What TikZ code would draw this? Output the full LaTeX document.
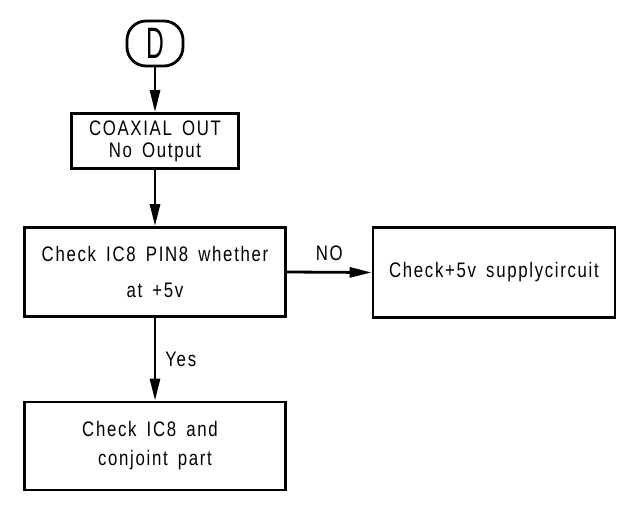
\documentclass[tikz,border=0pt]{standalone}
\usepackage{fontspec}
\setmainfont{Liberation Sans}[FakeStretch=0.8,LetterSpace=8,WordSpace=1.6]
\usetikzlibrary{arrows.meta,shapes.geometric}
\begin{document}
\begin{tikzpicture}[x=1pt,y=-1pt,
  box/.style={draw,line width=2.8pt,align=center,inner sep=0pt},
  conn/.style={line width=2.8pt,-{Triangle[length=22pt,width=10pt]}},
  lbl/.style={font=\fontsize{21}{22}\selectfont,inner sep=0pt}]
\useasboundingbox (0,0) rectangle (637,505);
\node[draw,line width=2.8pt,rounded corners=19pt,minimum width=56pt,minimum height=45pt,inner sep=0pt] (d) at (155,43.5) {\fontsize{44}{44}\selectfont\scalebox{0.7}[1]{D}};
\node[box,minimum width=167pt,minimum height=55pt,font=\fontsize{21}{22}\selectfont] (b1) at (155,141) {COAXIAL OUT\\No Output};
\node[box,minimum width=261pt,minimum height=89pt,font=\fontsize{21}{36}\selectfont] (b2) at (155,272) {Check IC8 PIN8 whether\\at +5v};
\node[box,minimum width=242pt,minimum height=90pt,font=\fontsize{21}{22}\selectfont] (br) at (494,272.5) {Check+5v supplycircuit};
\node[box,minimum width=261pt,minimum height=88pt,font=\fontsize{21}{29}\selectfont] (b3) at (155,446) {Check IC8 and\hspace*{10pt}\\conjoint part};
\draw[conn] (d) -- (b1);
\draw[conn] (b1) -- (b2);
\draw[conn] (b2.east) -- node[lbl,above=10pt] (no) {NO} (br.west);
\draw[conn] (b2) -- node[lbl,right=9pt] (yes) {Yes} (b3);
\end{tikzpicture}
\end{document}
